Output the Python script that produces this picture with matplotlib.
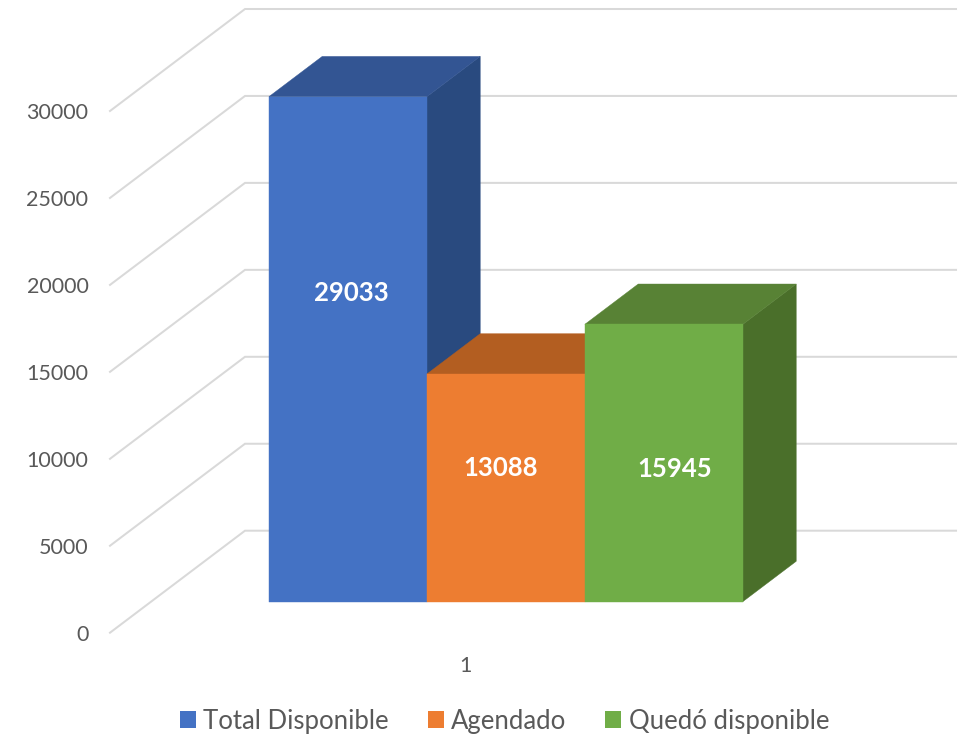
import matplotlib
matplotlib.use("Agg")
import matplotlib.pyplot as plt
from matplotlib.patches import Polygon, Patch

series = ["Total Disponible", "Agendado", "Quedó disponible"]
values = [29033, 13088, 15945]
yticks = [0, 5000, 10000, 15000, 20000, 25000, 30000]
category = ["1"]
front_colors = ["#4472C4", "#ED7D31", "#70AD47"]
top_colors = ["#335593", "#B35E21", "#588235"]
side_colors = ["#294A7F", "#B35E21", "#4A6F2A"]

W, H = 967, 735
plt.rcParams["font.family"] = ["Lato", "DejaVu Sans"]
fig = plt.figure(figsize=(W / 100, H / 100), dpi=100)
PX_L, PX_R, PX_0, PX_MAX = 110, 957, 632.7, 111
ax = fig.add_axes([PX_L / W, 1 - PX_0 / H, (PX_R - PX_L) / W, (PX_0 - PX_MAX) / H])
UNIT = 158.0
ax.set_xlim(0, (PX_R - PX_L) / UNIT)
ax.set_ylim(0, 30000)
K = (PX_0 - PX_MAX) / 30000
FLOOR = 4.5
DX, DY = 135 / UNIT, 102 / K


def proj(x, v, d):
    return (x + DX * d, v + DY * d)


for v in yticks:
    pts = [proj(0, v, 0), proj(0, v, 1), proj(FLOOR, v, 1)]
    ax.plot(*zip(*pts), color="#D9D9D9", lw=1.45, clip_on=False, zorder=1,
            solid_joinstyle="miter")

D0, D1 = 0.305, 0.700
START = 0.745
label_px_x = [351, 501, 675]
label_px_y = [293, 468, 469]
z = 2
for i, (val, fc, tc, sc) in enumerate(zip(values, front_colors, top_colors, side_colors)):
    x0, x1 = START + i, START + i + 1
    faces = [
        ([proj(x1, 0, D0), proj(x1, 0, D1), proj(x1, val, D1), proj(x1, val, D0)], sc),
        ([proj(x0, val, D0), proj(x1, val, D0), proj(x1, val, D1), proj(x0, val, D1)], tc),
        ([proj(x0, 0, D0), proj(x1, 0, D0), proj(x1, val, D0), proj(x0, val, D0)], fc),
    ]
    for pts, col in faces:
        ax.add_patch(Polygon(pts, closed=True, facecolor=col, edgecolor=col, lw=0.3,
                             clip_on=False, zorder=z))
        z += 1
    ax.text((label_px_x[i] - PX_L) / UNIT, (PX_0 - label_px_y[i]) / K, str(val), color="white",
            fontsize=18.5, fontweight="bold", ha="center", va="center", zorder=50, clip_on=False)

ax.set_yticks(yticks)
ax.set_xticks([FLOOR / 2])
ax.set_xticklabels(category)
ax.tick_params(axis="y", length=0, pad=15.5, labelsize=15.5, labelcolor="#595959")
ax.tick_params(axis="x", length=0, pad=17, labelsize=15.5, labelcolor="#595959")
for s in ax.spines.values():
    s.set_visible(False)
ax.patch.set_alpha(0)

handles = [Patch(facecolor=c, edgecolor="none", label=s) for c, s in zip(front_colors, series)]
fig.legend(handles=handles, loc="lower center", bbox_to_anchor=(504.5 / W, 0.002), ncol=3,
           frameon=False, fontsize=18.5, labelcolor="#595959", handlelength=0.62,
           handleheight=0.62, handletextpad=0.3, columnspacing=1.5, borderpad=0,
           borderaxespad=0)
fig.savefig("out.png", dpi=100, facecolor="white")
